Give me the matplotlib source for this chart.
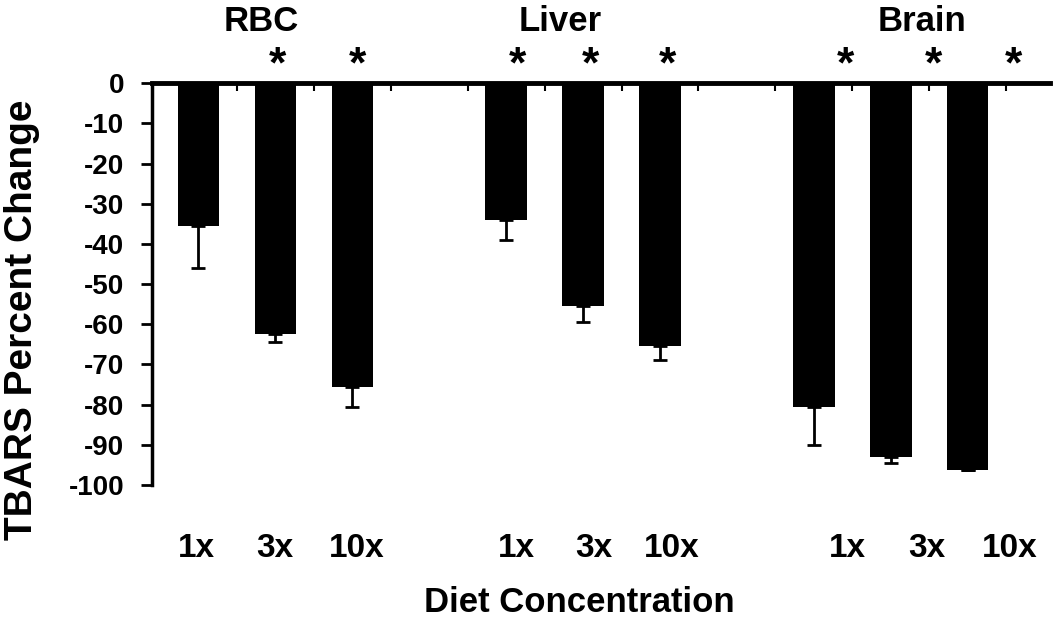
import matplotlib
matplotlib.use("Agg")
import matplotlib.pyplot as plt
import matplotlib.transforms as mtransforms

plt.rcParams['font.family'] = ['Liberation Sans', 'DejaVu Sans']
plt.rcParams['font.weight'] = 'bold'

# data
tissues = ["RBC", "Liver", "Brain"]
doses = ["1x", "3x", "10x"]
positions = [0, 1, 2, 4, 5, 6, 8, 9, 10]
values = [-35.5, -62.5, -75.5, -34.0, -55.5, -65.5, -80.5, -93.0, -96.3]
errors = [10.5, 2.0, 5.0, 5.0, 4.0, 3.5, 9.5, 1.5, 0.0]
significant = [False, True, True, True, True, True, True, True, True]

# where the annotations sit (the brain ones are shifted right in the original)
label_x = [-0.02, 0.99, 2.06, 4.14, 5.14, 6.15, 8.44, 9.47, 10.55]
star_x = [0.0, 1.03, 2.07, 4.15, 5.1, 6.1, 8.41, 9.55, 10.6]
title_x = [0.82, 4.7, 9.4]

fig = plt.figure(figsize=(10.57, 6.19), dpi=100)
ax = fig.add_axes([0.1438, 0.2165, 0.9934 - 0.1438, 0.8654 - 0.2165])

ax.bar(positions, values, width=0.54, color="black", zorder=2)
ax.errorbar(positions, values, yerr=[errors, [0] * len(errors)], fmt="none",
            ecolor="black", elinewidth=2, capsize=5, capthick=2, zorder=1)

ax.set_ylim(-100, 0)
ax.set_xlim(-0.604, 11.07)
ax.set_yticks(range(-100, 1, 10))
ax.set_yticklabels([str(v) for v in range(-100, 1, 10)], fontsize=20, fontweight="bold")
ax.tick_params(axis="y", direction="out", length=8, width=2, pad=12)

ax.set_xticks([k + 0.5 for k in range(11)])
ax.set_xticklabels([])
ax.tick_params(axis="x", direction="in", length=6, width=1.5, top=True, bottom=False)

for side in ["right", "bottom"]:
    ax.spines[side].set_visible(False)
ax.spines["left"].set_linewidth(2.5)
ax.spines["top"].set_linewidth(3.5)

tr = mtransforms.blended_transform_factory(ax.transData, fig.transFigure)
for i, x in enumerate(label_x):
    ax.text(x, 0.114, doses[i % 3], transform=tr, ha="center", va="center",
            fontsize=24, fontweight="bold")
for x, sig in zip(star_x, significant):
    if sig:
        ax.text(x, 0.893, "*", transform=tr, ha="center", va="center",
                fontsize=32, fontweight="bold", clip_on=False)
for name, x in zip(tissues, title_x):
    ax.text(x, 0.966, name, transform=tr, ha="center", va="center",
            fontsize=25, fontweight="bold")

fig.text(0.548, 0.012, "Diet Concentration", ha="center", va="baseline",
         fontsize=25, fontweight="bold")
fig.text(0.021, 0.483, "TBARS Percent Change", ha="center", va="center",
         rotation=90, fontsize=28, fontweight="bold")

fig.savefig("out.png", dpi=100)
